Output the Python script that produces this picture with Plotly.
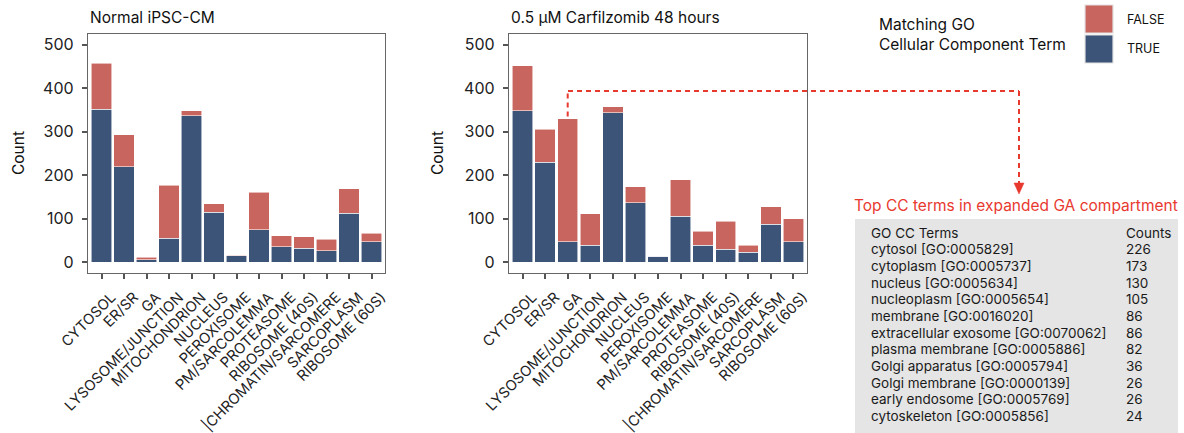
import plotly.graph_objects as go

W, H = 1184, 433

categories = ["CYTOSOL", "ER/SR", "GA", "LYSOSOME/JUNCTION", "MITOCHONDRION",
              "NUCLEUS", "PEROXISOME", "PM/SARCOLEMMA", "PROTEASOME",
              "RIBOSOME (40S)", "|CHROMATIN/SARCOMERE", "SARCOPLASM", "RIBOSOME (60S)"]

# Normal iPSC-CM: proteins matching (TRUE) / not matching (FALSE) the GO CC term
normal_true = [352, 219, 5, 55, 337, 115, 15, 74, 35, 32, 26, 112, 47]
normal_false = [106, 74, 6, 122, 11, 19, 1, 87, 26, 26, 27, 57, 20]

# 0.5 uM Carfilzomib, 48 h
carf_true = [348, 230, 47, 39, 344, 137, 13, 106, 39, 30, 23, 87, 47]
carf_false = [104, 76, 283, 72, 14, 37, 0, 84, 32, 64, 16, 40, 53]

panel_titles = ["Normal iPSC-CM", "0.5 \u00b5M Carfilzomib 48 hours"]
y_ticks = [0, 100, 200, 300, 400, 500]

table_header = ["GO CC Terms", "Counts"]
cc_terms = ["cytosol [GO:0005829]", "cytoplasm [GO:0005737]", "nucleus [GO:0005634]",
            "nucleoplasm [GO:0005654]", "membrane [GO:0016020]",
            "extracellular exosome [GO:0070062]", "plasma membrane [GO:0005886]",
            "Golgi apparatus [GO:0005794]", "Golgi membrane [GO:0000139]",
            "early endosome [GO:0005769]", "cytoskeleton [GO:0005856]"]
cc_counts = [226, 173, 130, 105, 86, 86, 82, 36, 26, 26, 24]

RED = "#C8655F"
BLUE = "#3D5479"
ARROW = "#E8392F"
FONT = "Inter"


def px(x):
    return x / W


def py(y):
    return 1 - y / H


fig = go.Figure()
panels = [(normal_true, normal_false, "x", "y"), (carf_true, carf_false, "x2", "y2")]
for t, f, xa, ya in panels:
    fig.add_trace(go.Bar(x=categories, y=t, xaxis=xa, yaxis=ya, marker_color=BLUE,
                         marker_line=dict(color="rgba(255,255,255,0.7)", width=0.8),
                         width=0.9, showlegend=False, hoverinfo="x+y"))
    fig.add_trace(go.Bar(x=categories, y=f, xaxis=xa, yaxis=ya, marker_color=RED,
                         marker_line=dict(color="rgba(255,255,255,0.7)", width=0.8),
                         width=0.9, showlegend=False, hoverinfo="x+y"))

y_dom = [py(273), py(34)]
x_doms = [[px(88), px(385)], [px(509), px(807)]]

common_x = dict(type="category", range=[-0.6, 12.6], showline=True, mirror=True,
                linecolor="#666666", linewidth=1.3, ticks="outside", ticklen=5,
                tickwidth=1.6, tickcolor="#555555", tickangle=-45, automargin=False,
                tickfont=dict(family=FONT, size=14.5, color="#222222"),
                ticklabelshift=10, ticklabelstandoff=4,
                showgrid=False, zeroline=False)
common_y = dict(range=[-25, 525], tickvals=y_ticks, showline=True, mirror=True,
                linecolor="#666666", linewidth=1.3, ticks="outside", ticklen=5,
                tickwidth=1.6, tickcolor="#555555", automargin=False,
                tickfont=dict(family=FONT, size=16, color="#222222"),
                showgrid=False, zeroline=False, ticklabelstandoff=5)

fig.update_layout(
    width=W, height=H, margin=dict(l=0, r=0, t=0, b=0, autoexpand=False),
    paper_bgcolor="white", plot_bgcolor="white", barmode="stack", bargap=0.1,
    xaxis=dict(domain=x_doms[0], anchor="y", **common_x),
    yaxis=dict(domain=y_dom, anchor="x", **common_y),
    xaxis2=dict(domain=x_doms[1], anchor="y2", **common_x),
    yaxis2=dict(domain=y_dom, anchor="x2", **common_y),
)

ann = []
shapes = []

# Panel titles and y-axis titles
for title, x0, xt in zip(panel_titles, [88, 509], [18, 437]):
    ann.append(dict(text=title, x=px(x0), y=py(17), xref="paper", yref="paper",
                    xanchor="left", yanchor="middle", showarrow=False,
                    font=dict(family=FONT, size=15.5, color="#111111")))
    ann.append(dict(text="Count", x=px(xt), y=py(153), xref="paper", yref="paper",
                    xanchor="center", yanchor="middle", showarrow=False, textangle=-90,
                    font=dict(family=FONT, size=15.5, color="#111111")))

# Legend
ann.append(dict(text="Matching GO<br>Cellular Component Term", x=px(877), y=py(34),
                xref="paper", yref="paper", xanchor="left", yanchor="middle",
                align="left", showarrow=False,
                font=dict(family=FONT, size=15.5, color="#111111")))
for label, col, y0, y1 in [("FALSE", RED, 5, 33), ("TRUE", BLUE, 35, 63)]:
    shapes.append(dict(type="rect", xref="paper", yref="paper", x0=px(1085), x1=px(1113),
                       y0=py(y1), y1=py(y0), fillcolor=col,
                       line=dict(color="#E2E2E2", width=1.2)))
    ann.append(dict(text=label, x=px(1125), y=py((y0 + y1) / 2), xref="paper", yref="paper",
                    xanchor="left", yanchor="middle", showarrow=False,
                    font=dict(family=FONT, size=12.5, color="#111111")))

# Dashed connector from the GA bar of the treated panel to the table
ga_total = carf_true[2] + carf_false[2]
shapes.append(dict(type="line", xref="x2", yref="y2", x0="GA", x1="GA",
                   y0=ga_total + 5, y1=394, line=dict(color=ARROW, width=2, dash="5px,4px")))
shapes.append(dict(type="line", xref="paper", yref="paper", x0=px(568), x1=px(1019),
                   y0=py(91), y1=py(91), line=dict(color=ARROW, width=2, dash="5px,4px")))
shapes.append(dict(type="line", xref="paper", yref="paper", x0=px(1019), x1=px(1019),
                   y0=py(91), y1=py(183), line=dict(color=ARROW, width=2, dash="5px,4px")))
shapes.append(dict(type="path", xref="paper", yref="paper",
                   path=f"M {px(1014)} {py(183)} L {px(1024)} {py(183)} L {px(1019)} {py(194)} Z",
                   fillcolor=ARROW, line=dict(color=ARROW, width=0.5)))

# Table of top GO CC terms
ann.append(dict(text="Top CC terms in expanded GA compartment", x=px(1016), y=py(205),
                xref="paper", yref="paper", xanchor="center", yanchor="middle",
                showarrow=False, font=dict(family=FONT, size=15.5, color=ARROW)))
shapes.append(dict(type="rect", xref="paper", yref="paper", x0=px(855), x1=px(1178),
                   y0=0, y1=py(219), fillcolor="#E5E5E5", line=dict(width=0), layer="below"))
rows = [table_header] + [[t, str(c)] for t, c in zip(cc_terms, cc_counts)]
for i, (term, cnt) in enumerate(rows):
    yy = py(232.7 + i * 16.67)
    ann.append(dict(text=term, x=px(869), y=yy, xref="paper", yref="paper",
                    xanchor="left", yanchor="middle", showarrow=False,
                    font=dict(family=FONT, size=13.5, color="#1A1A1A")))
    ann.append(dict(text=cnt, x=px(1124), y=yy, xref="paper", yref="paper",
                    xanchor="left", yanchor="middle", showarrow=False,
                    font=dict(family=FONT, size=13.5, color="#1A1A1A")))

fig.update_layout(annotations=ann, shapes=shapes)
fig.write_html("out.html")
